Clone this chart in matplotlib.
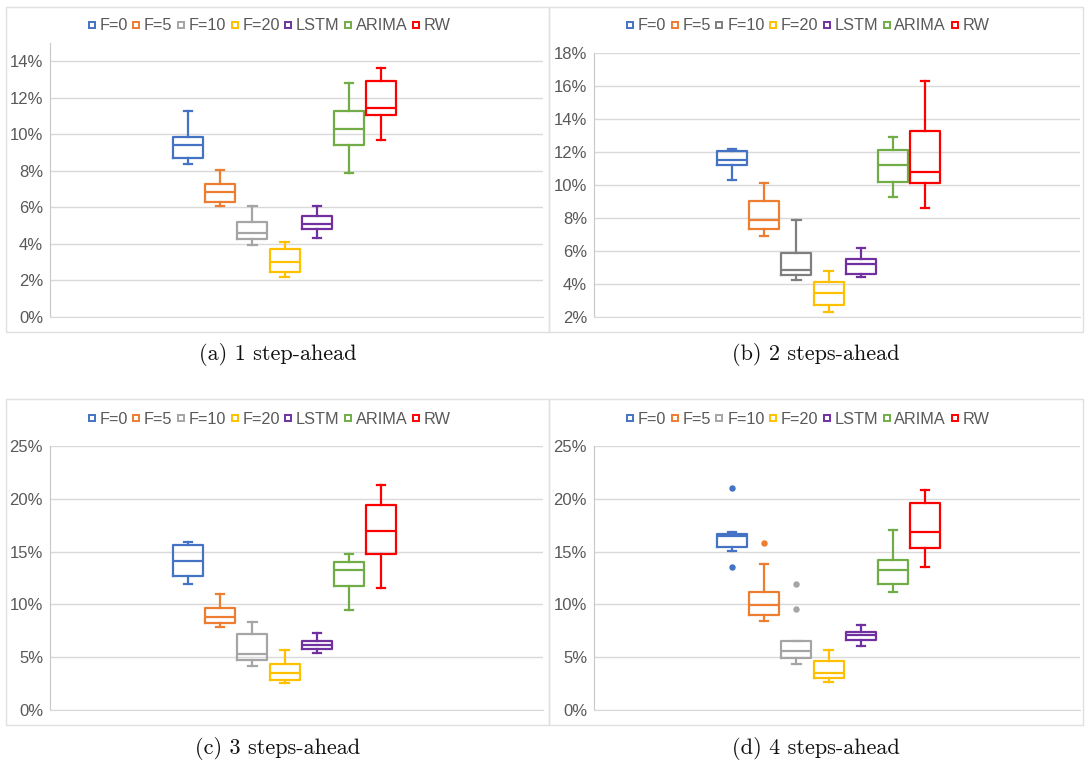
import matplotlib
matplotlib.use("Agg")
import matplotlib.pyplot as plt
from matplotlib.patches import Rectangle
from matplotlib.lines import Line2D
from matplotlib.ticker import PercentFormatter, MultipleLocator

# series names and colours
names = ["F=0", "F=5", "F=10", "F=20", "LSTM", "ARIMA", "RW"]
colors = ["#4472C4", "#ED7D31", "#A5A5A5", "#FFC000", "#7030A0", "#70AD47", "#FF0000"]

# (a) 1 step-ahead, error in %
a_lo = [8.4, 6.1, 3.95, 2.2, 4.35, 7.9, 9.7]
a_q1 = [8.7, 6.3, 4.25, 2.45, 4.8, 9.4, 11.05]
a_med = [9.4, 6.85, 4.6, 3.0, 5.1, 10.3, 11.45]
a_q3 = [9.85, 7.3, 5.2, 3.7, 5.55, 11.3, 12.9]
a_hi = [11.3, 8.05, 6.1, 4.1, 6.05, 12.8, 13.65]

# (b) 2 steps-ahead
b_lo = [10.3, 6.9, 4.25, 2.3, 4.45, 9.3, 8.6]
b_q1 = [11.2, 7.35, 4.55, 2.75, 4.6, 10.2, 10.15]
b_med = [11.5, 7.9, 4.85, 3.45, 5.2, 11.2, 10.8]
b_q3 = [12.05, 9.05, 5.9, 4.15, 5.5, 12.15, 13.3]
b_hi = [12.2, 10.1, 7.85, 4.8, 6.2, 12.9, 16.3]

# (c) 3 steps-ahead
c_lo = [11.9, 7.85, 4.2, 2.55, 5.4, 9.5, 11.6]
c_q1 = [12.7, 8.2, 4.7, 2.8, 5.75, 11.75, 14.75]
c_med = [14.1, 8.85, 5.3, 3.5, 6.15, 13.3, 16.95]
c_q3 = [15.65, 9.7, 7.15, 4.35, 6.5, 14.0, 19.45]
c_hi = [15.95, 11.0, 8.35, 5.7, 7.3, 14.75, 21.35]

# (d) 4 steps-ahead
d_lo = [15.05, 8.4, 4.35, 2.65, 6.1, 11.2, 13.55]
d_q1 = [15.4, 9.0, 4.95, 3.0, 6.65, 11.9, 15.3]
d_med = [16.45, 9.9, 5.55, 3.55, 7.1, 13.3, 16.9]
d_q3 = [16.65, 11.2, 6.5, 4.6, 7.35, 14.2, 19.6]
d_hi = [16.9, 13.8, 6.5, 5.7, 8.05, 17.05, 20.85]
d_out = [[21.05, 13.5], [15.85], [11.95, 9.6], [], [], [], []]

captions = ["(a) 1 step-ahead", "(b) 2 steps-ahead", "(c) 3 steps-ahead", "(d) 4 steps-ahead"]

W, H = 1086, 764
fig = plt.figure(figsize=(W / 100, H / 100), dpi=100)
fig.patch.set_facecolor("white")

TXT = "#595959"
GRID = "#D9D9D9"
FONT = ["Liberation Sans", "DejaVu Sans"]


def frac(l, t, r, b):
    return [l / W, 1 - b / H, (r - l) / W, (b - t) / H]


panels = [
    dict(data=(a_lo, a_q1, a_med, a_q3, a_hi), out=None, ylim=(0, 15), step=2,
         ax=(50, 43, 543, 317), box=(6, 7, 549, 332), leg=26, cap=355, cols=colors),
    dict(data=(b_lo, b_q1, b_med, b_q3, b_hi), out=None, ylim=(2, 18), step=2,
         ax=(594, 53, 1080, 317), box=(549, 7, 1083, 332), leg=26, cap=355,
         cols=colors[:2] + ["#7F7F7F"] + colors[3:]),
    dict(data=(c_lo, c_q1, c_med, c_q3, c_hi), out=None, ylim=(0, 25), step=5,
         ax=(50, 446, 543, 710), box=(6, 399, 549, 725), leg=419, cap=748, cols=colors),
    dict(data=(d_lo, d_q1, d_med, d_q3, d_hi), out=d_out, ylim=(0, 25), step=5,
         ax=(594, 446, 1080, 710), box=(549, 399, 1083, 725), leg=419, cap=748, cols=colors),
]

for k, p in enumerate(panels):
    # light frame round each chart
    l, t, r, b = p["box"]
    fig.patches.append(Rectangle((l / W, 1 - b / H), (r - l) / W, (b - t) / H,
                                 transform=fig.transFigure, fill=False,
                                 edgecolor="#E0E0E0", linewidth=1.0))

    ax = fig.add_axes(frac(*p["ax"]))
    lo, q1, med, q3, hi = p["data"]
    stats = []
    for i in range(len(names)):
        stats.append(dict(whislo=lo[i], q1=q1[i], med=med[i], q3=q3[i], whishi=hi[i],
                          fliers=(p["out"][i] if p["out"] else [])))
    for i, s in enumerate(stats):
        c = p["cols"][i]
        ax.bxp([s], positions=[i], widths=0.93, showfliers=True, capwidths=0.26,
               boxprops=dict(color=c, linewidth=1.6),
               medianprops=dict(color=c, linewidth=1.6),
               whiskerprops=dict(color=c, linewidth=1.6),
               capprops=dict(color=c, linewidth=1.6),
               flierprops=dict(marker="o", markersize=3.6, markerfacecolor=c,
                               markeredgecolor=c))

    axw = p["ax"][2] - p["ax"][0]
    ax.set_xlim(-138 / 32.2, (axw - 138) / 32.2)
    ax.set_ylim(*p["ylim"])
    ax.yaxis.set_major_locator(MultipleLocator(p["step"]))
    ax.yaxis.set_major_formatter(PercentFormatter(decimals=0))
    ax.set_xticks([])
    ax.grid(axis="y", color=GRID, linewidth=1.0)
    ax.set_axisbelow(True)
    for side in ["top", "right"]:
        ax.spines[side].set_visible(False)
    ax.spines["left"].set_color("#C8C8C8")
    ax.spines["bottom"].set_color(GRID)
    ax.tick_params(axis="y", length=0, pad=5, labelsize=12, labelcolor=TXT)
    for lab in ax.get_yticklabels():
        lab.set_fontfamily(FONT)

    handles = [Line2D([], [], linestyle="none", marker="s", markersize=4.6,
                      markerfacecolor="white", markeredgecolor=c, markeredgewidth=1.4)
               for c in p["cols"]]
    cx = (l + r) / 2 / W
    fig.legend(handles, names, loc="center", bbox_to_anchor=(cx - 8 / W, 1 - p["leg"] / H),
               ncol=7, frameon=False, handlelength=0.45, handletextpad=0.25,
               columnspacing=0.3, borderpad=0,
               prop=dict(family=FONT, size=11.7), labelcolor=TXT)

    fig.text(cx, 1 - p["cap"] / H, captions[k], ha="center", va="center",
             family="cmr10", size=16, color="#111111")

fig.savefig("out.png", dpi=100, facecolor="white")
